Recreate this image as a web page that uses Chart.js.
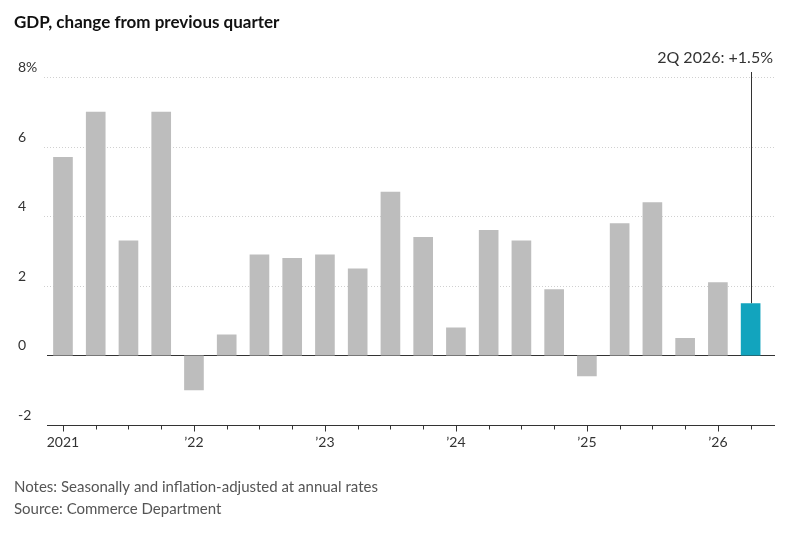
<!DOCTYPE html>
<html>
<head>
<meta charset="UTF-8">
<script src="https://cdn.jsdelivr.net/npm/chart.js@4/dist/chart.umd.min.js"></script>
<style>
  html, body { margin: 0; padding: 0; background: #fff; }
  #wrap { width: 806px; height: 551px; }
</style>
</head>
<body>
<div id="wrap"><canvas id="gdp"></canvas></div>
<script>
// quarters 1Q 2021 .. 2Q 2026
var quarters = ['1Q21','2Q21','3Q21','4Q21','1Q22','2Q22','3Q22','4Q22','1Q23','2Q23','3Q23','4Q23',
  '1Q24','2Q24','3Q24','4Q24','1Q25','2Q25','3Q25','4Q25','1Q26','2Q26'];
var gdpChange = [5.7, 7.0, 3.3, 7.0, -1.0, 0.6, 2.9, 2.8, 2.9, 2.5, 4.7, 3.4,
  0.8, 3.6, 3.3, 1.9, -0.6, 3.8, 4.4, 0.5, 2.1, 1.5];
var yearLabels = ['2021', '\u201922', '\u201923', '\u201924', '\u201925', '\u201926'];
var yTicks = [8, 6, 4, 2, 0, -2];

var FONT = 'Lato, "Noto Sans", sans-serif';
var last = gdpChange.length - 1;

var decor = {
  id: 'decor',
  beforeDatasetsDraw: function(chart) {
    var c = chart.ctx, y = chart.scales.y;
    c.save();
    yTicks.forEach(function(t) {
      var py = Math.round(y.getPixelForValue(t)) + 0.5;
      c.strokeStyle = (t === 0 || t === -2) ? '#333' : '#d0d0d0';
      c.lineWidth = 1;
      if (t !== 0 && t !== -2) c.setLineDash([1, 2]); else c.setLineDash([]);
      c.beginPath(); c.moveTo(t === 0 || t === -2 ? 47 : 44, py); c.lineTo(775, py); c.stroke();
      c.setLineDash([]);
      c.fillStyle = '#333';
      c.font = '14px ' + FONT;
      c.textAlign = 'left'; c.textBaseline = 'bottom';
      c.fillText(t === 8 ? '8%' : String(t), 18, py - 3);
    });
    c.restore();
  },
  afterDraw: function(chart) {
    var c = chart.ctx, x = chart.scales.x, y = chart.scales.y;
    var base = Math.round(y.getPixelForValue(-2)) + 0.5;
    c.save();
    // quarter tick marks
    c.strokeStyle = '#333'; c.lineWidth = 1;
    quarters.forEach(function(q, i) {
      var px = Math.round(x.getPixelForValue(i)) + 0.5;
      c.beginPath(); c.moveTo(px, base); c.lineTo(px, base + (i % 4 === 0 ? 6 : 4)); c.stroke();
    });
    c.fillStyle = '#333'; c.font = '14px ' + FONT;
    c.textAlign = 'center'; c.textBaseline = 'top';
    yearLabels.forEach(function(l, k) {
      c.fillText(l, x.getPixelForValue(k * 4), base + 10);
    });
    // annotation
    var ax = Math.round(x.getPixelForValue(last)) + 0.5;
    c.strokeStyle = '#333';
    c.beginPath(); c.moveTo(ax, 72); c.lineTo(ax, y.getPixelForValue(gdpChange[last])); c.stroke();
    c.font = '16px ' + FONT; c.textAlign = 'right'; c.textBaseline = 'alphabetic';
    c.fillText('2Q 2026: +' + gdpChange[last].toFixed(1) + '%', 773, 63);
    // title and notes
    c.textAlign = 'left';
    c.font = 'bold 17px ' + FONT; c.fillStyle = '#111';
    c.fillText('GDP, change from previous quarter', 14, 28);
    c.font = '15px ' + FONT; c.fillStyle = '#555';
    c.fillText('Notes: Seasonally and inflation-adjusted at annual rates', 14, 492);
    c.fillText('Source: Commerce Department', 14, 514);
    c.restore();
  }
};

new Chart(document.getElementById('gdp').getContext('2d'), {
  type: 'bar',
  data: {
    labels: quarters,
    datasets: [{
      data: gdpChange,
      backgroundColor: gdpChange.map(function(v, i) { return i === last ? '#12a4be' : '#bdbdbd'; }),
      borderWidth: 0,
      categoryPercentage: 1,
      barPercentage: 0.6
    }]
  },
  options: {
    responsive: true,
    maintainAspectRatio: false,
    animation: false,
    layout: { padding: { left: 46.6, right: 39, top: 77, bottom: 126 } },
    plugins: { legend: { display: false }, tooltip: { enabled: false } },
    scales: {
      x: { display: false },
      y: { display: false, min: -2, max: 8 }
    }
  },
  plugins: [decor]
});
</script>
</body>
</html>
